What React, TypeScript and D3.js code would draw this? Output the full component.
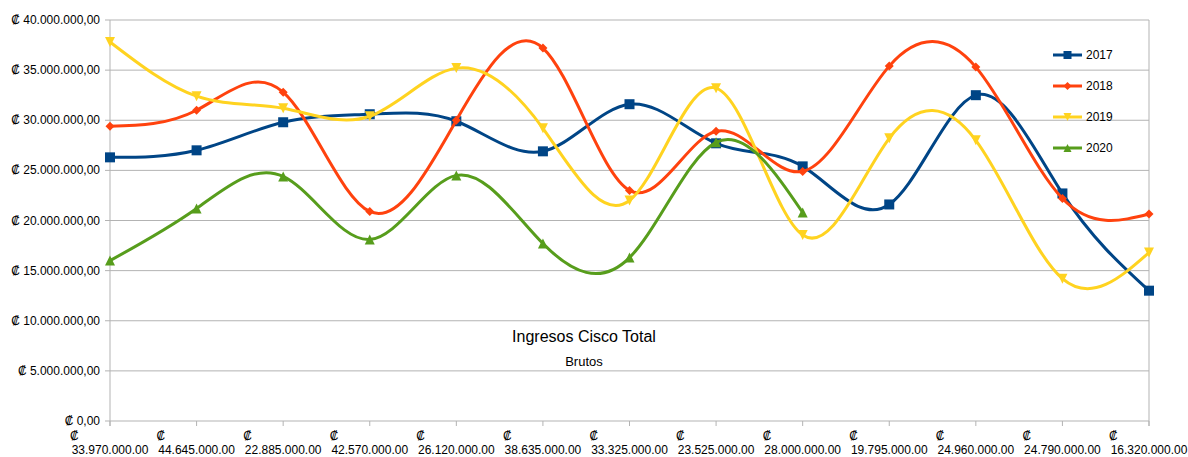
import React from "react";
import * as d3 from "d3";

const categories = [
  "33.970.000.00", "44.645.000.00", "22.885.000.00", "42.570.000.00", "26.120.000.00",
  "38.635.000.00", "33.325.000.00", "23.525.000.00", "28.000.000.00", "19.795.000.00",
  "24.960.000.00", "24.790.000.00", "16.320.000.00",
];

const values2017 = [26.3, 27.0, 29.8, 30.6, 29.9, 26.9, 31.6, 27.7, 25.4, 21.6, 32.5, 22.7, 13.0];
const values2018 = [29.4, 31.0, 32.8, 20.9, 30.0, 37.2, 23.0, 28.9, 24.9, 35.4, 35.3, 22.2, 20.65];
const values2019 = [37.8, 32.4, 31.2, 30.4, 35.2, 29.2, 22.0, 33.2, 18.55, 28.2, 28.0, 14.2, 16.8];
const values2020 = [16.0, 21.2, 24.4, 18.1, 24.5, 17.7, 16.3, 27.8, 20.8];

const seriesNames = ["2017", "2018", "2019", "2020"];
const seriesColors = ["#004586", "#ff420e", "#ffd320", "#579d1c"];
const seriesMarkers = ["square", "diamond", "down", "up"];
const seriesValues = [values2017, values2018, values2019, values2020];

const yTicks = [0, 5, 10, 15, 20, 25, 30, 35, 40];
const yTickLabels = [
  "₡ 0,00", "₡ 5.000.000,00", "₡ 10.000.000,00", "₡ 15.000.000,00", "₡ 20.000.000,00",
  "₡ 25.000.000,00", "₡ 30.000.000,00", "₡ 35.000.000,00", "₡ 40.000.000,00",
];

const titleText = "Ingresos Cisco Total";
const subtitleText = "Brutos";

const W = 1188;
const H = 457;
const left = 110;
const right = 1149;
const top = 20;
const bottom = 421;
const font = "'Liberation Sans', Arial, sans-serif";

function marker(kind: string, x: number, y: number, s: number, color: string, key: string) {
  if (kind === "square") {
    return <rect key={key} x={x - s / 2} y={y - s / 2} width={s} height={s} fill={color} />;
  }
  if (kind === "diamond") {
    const h = s / 2;
    return <path key={key} d={`M${x},${y - h}L${x + h},${y}L${x},${y + h}L${x - h},${y}Z`} fill={color} />;
  }
  const h = s / 2;
  if (kind === "down") {
    return <path key={key} d={`M${x - h},${y - h}L${x + h},${y - h}L${x},${y + h}Z`} fill={color} />;
  }
  return <path key={key} d={`M${x - h},${y + h}L${x + h},${y + h}L${x},${y - h}Z`} fill={color} />;
}

export default function App() {
  const x = d3.scalePoint<string>().domain(categories).range([left, right]).padding(0);
  const y = d3.scaleLinear().domain([0, 40]).range([bottom, top]);
  const line = d3
    .line<number>()
    .x((_, i) => x(categories[i]) as number)
    .y((d) => y(d))
    .curve(d3.curveNatural);

  return (
    <svg
      width={W}
      height={H}
      style={{ position: "absolute", left: 0, top: 0, background: "#fff" }}
      fontFamily={font}
    >
      <rect x={0} y={0} width={W} height={H} fill="#fff" />
      {yTicks.map((t) => (
        <line key={"g" + t} x1={left} x2={right} y1={y(t)} y2={y(t)} stroke="#b3b3b3" strokeWidth={1} />
      ))}
      {yTicks.map((t) => (
        <line key={"yt" + t} x1={left - 5} x2={left} y1={y(t)} y2={y(t)} stroke="#b3b3b3" strokeWidth={1} />
      ))}
      <line x1={left} x2={left} y1={top} y2={bottom + 5} stroke="#b3b3b3" strokeWidth={1} />
      <line x1={right} x2={right} y1={top} y2={bottom + 5} stroke="#b3b3b3" strokeWidth={1} />
      {categories.map((c) => (
        <line key={"xt" + c} x1={x(c)} x2={x(c)} y1={bottom} y2={bottom + 5} stroke="#b3b3b3" strokeWidth={1} />
      ))}
      {yTicks.map((t, i) => (
        <text key={"yl" + t} x={100} y={y(t) + 4} textAnchor="end" fontSize={12} fill="#000">
          {yTickLabels[i]}
        </text>
      ))}
      {categories.map((c) => (
        <g key={"xl" + c}>
          <text x={(x(c) as number) - 40} y={440} fontSize={12} fill="#000">₡</text>
          <text x={x(c)} y={454} textAnchor="middle" fontSize={12} fill="#000">{c}</text>
        </g>
      ))}
      <text x={584} y={342} textAnchor="middle" fontSize={16} fill="#000">{titleText}</text>
      <text x={584} y={366} textAnchor="middle" fontSize={13} fill="#000">{subtitleText}</text>
      {seriesValues.map((vals, si) => (
        <g key={"s" + si}>
          <path d={line(vals) as string} fill="none" stroke={seriesColors[si]} strokeWidth={3} strokeLinejoin="round" />
          {vals.map((v, i) =>
            marker(seriesMarkers[si], x(categories[i]) as number, y(v), seriesMarkers[si] === "diamond" ? 9 : 10, seriesColors[si], `m${si}-${i}`)
          )}
        </g>
      ))}
      {seriesNames.map((n, i) => {
        const ly = 55 + i * 31;
        return (
          <g key={"lg" + n}>
            <line x1={1053} x2={1082} y1={ly} y2={ly} stroke={seriesColors[i]} strokeWidth={3} />
            {marker(seriesMarkers[i], 1067.5, ly, 8, seriesColors[i], "lm" + n)}
            <text x={1086} y={ly + 4} fontSize={12} fill="#000">{n}</text>
          </g>
        );
      })}
    </svg>
  );
}
